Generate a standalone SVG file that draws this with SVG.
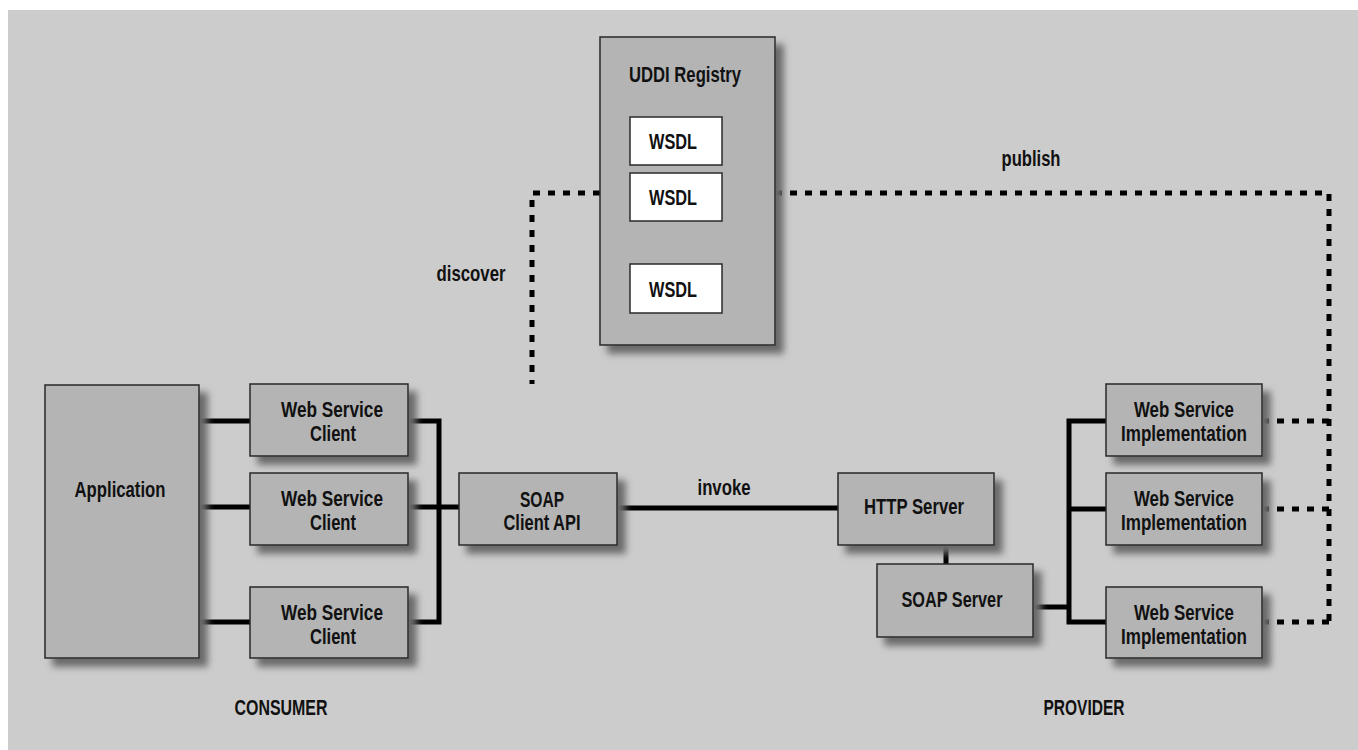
<svg xmlns="http://www.w3.org/2000/svg" width="1358" height="750" viewBox="0 0 1358 750">
  <style>
    .box { fill: #b4b4b4; stroke: #2a2a2a; stroke-width: 1.5; filter: url(#shadow); }
    .wsdl { fill: #ffffff; stroke: #2a2a2a; stroke-width: 1.5; }
    .lbl { font-family: "Liberation Sans", Arial, sans-serif; font-weight: bold; font-size: 22px; fill: #111; text-anchor: middle; }
    .solid { fill: none; stroke: #000; stroke-width: 5; }
    .dotted { fill: none; stroke: #000; stroke-width: 5; stroke-dasharray: 7 8; }
  </style>
  <defs>
    <filter id="shadow" x="-20%" y="-20%" width="150%" height="150%">
      <feDropShadow dx="8" dy="8" stdDeviation="3.5" flood-color="#6a6a6a" flood-opacity="1"/>
    </filter>
  </defs>

  <!-- backdrop panel -->
  <rect x="0" y="0" width="1358" height="750" fill="#ffffff"/>
  <rect x="8" y="10" width="1350" height="740" fill="#cccccc"/>

  <!-- connectors -->
  <g id="connectors">
    <!-- application to clients -->
    <path class="solid" d="M199 421H250M199 507H250M199 622H250"/>
    <!-- clients to SOAP client API -->
    <path class="solid" d="M408 421H439V622H408M408 507H459"/>
    <!-- invoke -->
    <path class="solid" d="M617 508H838"/>
    <!-- HTTP server to SOAP server -->
    <path class="solid" d="M946 545V564"/>
    <!-- SOAP server to implementations -->
    <path class="solid" d="M1033 607H1069M1106 421H1069V622H1106M1069 509H1106"/>
    <!-- discover -->
    <path class="dotted" d="M600 193H532V384"/>
    <!-- WSDL chain -->
    <path class="dotted" d="M722 137H753V297H722"/>
    <!-- publish -->
    <path class="dotted" d="M775 193H1329V625"/>
    <path class="dotted" d="M1262 421H1329M1262 509H1329M1262 622H1329"/>
  </g>

  <g id="uddi-registry">
    <rect class="box" x="600" y="37" width="175" height="308"/>
    <text class="lbl" x="685" y="82" textLength="112" lengthAdjust="spacingAndGlyphs">UDDI Registry</text>
  </g>
  <g id="wsdl-1">
    <rect class="wsdl" x="630" y="117" width="92" height="48"/>
    <text class="lbl" x="673" y="149" textLength="48" lengthAdjust="spacingAndGlyphs">WSDL</text>
  </g>
  <g id="wsdl-2">
    <rect class="wsdl" x="630" y="173" width="92" height="48"/>
    <text class="lbl" x="673" y="205" textLength="48" lengthAdjust="spacingAndGlyphs">WSDL</text>
  </g>
  <g id="wsdl-3">
    <rect class="wsdl" x="630" y="264" width="92" height="49"/>
    <text class="lbl" x="673" y="297" textLength="48" lengthAdjust="spacingAndGlyphs">WSDL</text>
  </g>

  <g id="application">
    <rect class="box" x="45" y="385" width="154" height="273"/>
    <text class="lbl" x="120" y="497" textLength="91" lengthAdjust="spacingAndGlyphs">Application</text>
  </g>

  <g id="client-1">
    <rect class="box" x="250" y="384" width="158" height="72"/>
    <text class="lbl" x="332" y="417" textLength="102" lengthAdjust="spacingAndGlyphs">Web Service</text>
    <text class="lbl" x="333" y="441" textLength="46" lengthAdjust="spacingAndGlyphs">Client</text>
  </g>
  <g id="client-2">
    <rect class="box" x="250" y="473" width="158" height="72"/>
    <text class="lbl" x="332" y="506" textLength="102" lengthAdjust="spacingAndGlyphs">Web Service</text>
    <text class="lbl" x="333" y="530" textLength="46" lengthAdjust="spacingAndGlyphs">Client</text>
  </g>
  <g id="client-3">
    <rect class="box" x="250" y="587" width="158" height="71"/>
    <text class="lbl" x="332" y="620" textLength="102" lengthAdjust="spacingAndGlyphs">Web Service</text>
    <text class="lbl" x="333" y="644" textLength="46" lengthAdjust="spacingAndGlyphs">Client</text>
  </g>

  <g id="soap-client-api">
    <rect class="box" x="459" y="473" width="158" height="72"/>
    <text class="lbl" x="542" y="507" textLength="44" lengthAdjust="spacingAndGlyphs">SOAP</text>
    <text class="lbl" x="542" y="530" textLength="77" lengthAdjust="spacingAndGlyphs">Client API</text>
  </g>

  <g id="http-server">
    <rect class="box" x="838" y="473" width="156" height="72"/>
    <text class="lbl" x="914" y="514" textLength="100" lengthAdjust="spacingAndGlyphs">HTTP Server</text>
  </g>
  <g id="soap-server">
    <rect class="box" x="877" y="564" width="156" height="73"/>
    <text class="lbl" x="952" y="607" textLength="101" lengthAdjust="spacingAndGlyphs">SOAP Server</text>
  </g>

  <g id="impl-1">
    <rect class="box" x="1106" y="384" width="156" height="72"/>
    <text class="lbl" x="1184" y="417" textLength="100" lengthAdjust="spacingAndGlyphs">Web Service</text>
    <text class="lbl" x="1184" y="441" textLength="126" lengthAdjust="spacingAndGlyphs">Implementation</text>
  </g>
  <g id="impl-2">
    <rect class="box" x="1106" y="473" width="156" height="72"/>
    <text class="lbl" x="1184" y="506" textLength="100" lengthAdjust="spacingAndGlyphs">Web Service</text>
    <text class="lbl" x="1184" y="530" textLength="126" lengthAdjust="spacingAndGlyphs">Implementation</text>
  </g>
  <g id="impl-3">
    <rect class="box" x="1106" y="587" width="156" height="71"/>
    <text class="lbl" x="1184" y="620" textLength="100" lengthAdjust="spacingAndGlyphs">Web Service</text>
    <text class="lbl" x="1184" y="644" textLength="126" lengthAdjust="spacingAndGlyphs">Implementation</text>
  </g>

  <!-- connector and zone labels -->
  <g id="labels">
    <text class="lbl" x="471" y="281" textLength="69" lengthAdjust="spacingAndGlyphs">discover</text>
    <text class="lbl" x="1031" y="166" textLength="59" lengthAdjust="spacingAndGlyphs">publish</text>
    <text class="lbl" x="724" y="495" textLength="53" lengthAdjust="spacingAndGlyphs">invoke</text>
    <text class="lbl" x="281" y="715" textLength="93" lengthAdjust="spacingAndGlyphs">CONSUMER</text>
    <text class="lbl" x="1084" y="715" textLength="81" lengthAdjust="spacingAndGlyphs">PROVIDER</text>
  </g>
</svg>
